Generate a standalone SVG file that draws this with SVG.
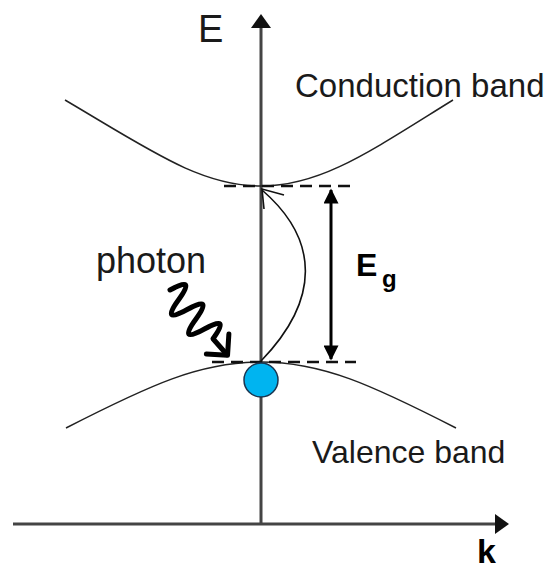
<svg xmlns="http://www.w3.org/2000/svg" width="551" height="570" viewBox="0 0 551 570">
<style>
.t{font-family:"Liberation Sans",Arial,sans-serif;fill:#1a1a1a}
.b{font-weight:bold;fill:#000}
.band{fill:none;stroke:#222;stroke-width:1.5}
.axis{stroke:#444;stroke-width:3;fill:none}
.dash{stroke:#111;stroke-width:2.5;stroke-dasharray:12 7;fill:none}
</style>
<defs>
<marker id="ah" viewBox="0 0 10 10" refX="9" refY="5" markerWidth="6" markerHeight="5" orient="auto-start-reverse" markerUnits="strokeWidth">
<path d="M0,0 L10,5 L0,10 Z" fill="#000"/>
</marker>
</defs>
<rect width="551" height="570" fill="#fff"/>
<g id="axes">
<line class="axis" x1="261" y1="524" x2="261" y2="27"/>
<polygon points="261,14 251,28 271,28" fill="#111"/>
<line class="axis" x1="13" y1="524" x2="496" y2="524"/>
<polygon points="509,524 495,514 495,534" fill="#111"/>
<text class="t" x="198" y="42" font-size="38">E</text>
<text class="t b" x="477" y="563" font-size="34">k</text>
</g>
<g id="conduction-band">
<path class="band" d="M65,100 C150,150 200,186 261,186 C322,186 372,150 453,100"/>
<text class="t" x="295" y="97" font-size="33">Conduction band</text>
</g>
<g id="valence-band">
<path class="band" d="M66,428 C150,385 200,362 261,362 C322,362 372,385 456,428"/>
<text class="t" x="312" y="463" font-size="32">Valence band</text>
</g>
<g id="connectors">
<line class="dash" x1="224" y1="186" x2="352" y2="186"/>
<line class="dash" x1="212" y1="362" x2="356" y2="362"/>
<line x1="331" y1="190" x2="331" y2="359" stroke="#000" stroke-width="3" marker-start="url(#ah)" marker-end="url(#ah)"/>
<path d="M261,361 C320,300 320,240 262,190" fill="none" stroke="#111" stroke-width="1.6"/>
<path d="M284,195 L262,189 L264,209" fill="none" stroke="#111" stroke-width="1.6"/>
</g>
<g id="gap-label">
<text class="t b" x="356" y="276" font-size="32">E</text>
<text class="t b" x="382" y="287" font-size="24">g</text>
</g>
<g id="photon">
<text class="t" x="96" y="273" font-size="36">photon</text>
<g transform="translate(170,290) rotate(48.6)" fill="none" stroke="#000" stroke-width="5" stroke-linejoin="round" stroke-linecap="round">
<path d="M0,0 q6.5,-30 13,0 t13,0 t13,0 t13,0 t13,0 L86,0"/>
<path d="M72,-15 L87,0 L72,15"/>
</g>
</g>
<g id="electron">
<circle cx="261" cy="380" r="17" fill="#00B4F0" stroke="#1a3550" stroke-width="1.5"/>
</g>
</svg>
